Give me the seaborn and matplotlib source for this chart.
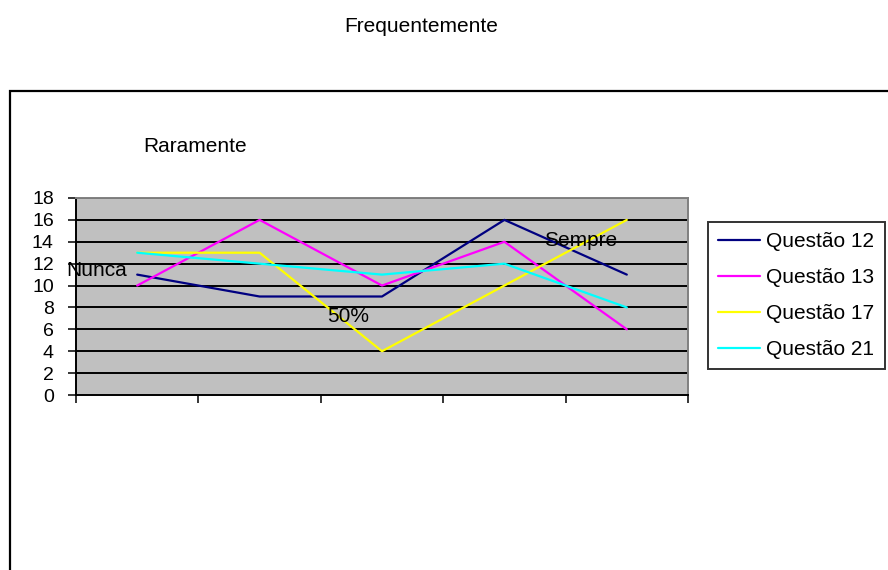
import matplotlib
matplotlib.use("Agg")
import matplotlib.pyplot as plt
import seaborn as sns
import pandas as pd
from matplotlib.patches import Rectangle

# Survey answers per question, one value per response category
categories = ["C1", "C2", "C3", "C4", "C5"]
questao_12 = [11, 9, 9, 16, 11]
questao_13 = [10, 16, 10, 14, 6]
questao_17 = [13, 13, 4, 10, 16]
questao_21 = [13, 12, 11, 12, 8]
series_names = ["Questão 12", "Questão 13", "Questão 17", "Questão 21"]
y_ticks = [0, 2, 4, 6, 8, 10, 12, 14, 16, 18]

sns.set_theme(style="white")
plt.rcParams["font.family"] = ["Liberation Sans", "DejaVu Sans"]
plt.rcParams["text.color"] = "black"
plt.rcParams["xtick.color"] = "black"
plt.rcParams["ytick.color"] = "black"

rows = []
for name, vals in zip(series_names, [questao_12, questao_13, questao_17, questao_21]):
    for i, v in enumerate(vals):
        rows.append({"pos": i, "valor": v, "serie": name})
df = pd.DataFrame(rows)

palette = {"Questão 12": "#000080", "Questão 13": "#FF00FF",
           "Questão 17": "#FFFF00", "Questão 21": "#00FFFF"}

W, H = 888, 570
fig = plt.figure(figsize=(W / 100, H / 100), dpi=100)

# Outer chart frame (runs off the right and bottom edges)
fig.patches.append(Rectangle((10 / W, -0.05), 1.0, 1 - 91 / H + 0.05,
                             transform=fig.transFigure, fill=False,
                             edgecolor="black", linewidth=1.6, zorder=0))

left, right, top, bottom = 76, 688, 198, 395
ax = fig.add_axes([left / W, 1 - bottom / H, (right - left) / W, (bottom - top) / H])
ax.set_facecolor("#C0C0C0")

for y in y_ticks[1:]:
    ax.axhline(y, color="black", linewidth=1.4, zorder=1)

sns.lineplot(data=df, x="pos", y="valor", hue="serie", palette=palette,
             linewidth=1.6, ax=ax, legend=False, zorder=3)

ax.set_xlim(-0.5, len(categories) - 0.5)
ax.set_ylim(0, 18)
ax.set_yticks(y_ticks)
ax.set_yticklabels([str(t) for t in y_ticks], fontsize=14, color="black")
ax.set_xticks([i - 0.5 for i in range(len(categories) + 1)])
ax.set_xticklabels([])
ax.set_xlabel("")
ax.set_ylabel("")
ax.tick_params(axis="both", direction="out", length=6, width=1.1, color="black",
               left=True, bottom=True)
ax.tick_params(axis="y", pad=10)
for side in ["left", "bottom"]:
    ax.spines[side].set_color("black")
    ax.spines[side].set_linewidth(1.4)
for side in ["top", "right"]:
    ax.spines[side].set_color("#808080")
    ax.spines[side].set_linewidth(1.4)

# Free text labels placed around the chart
fig.text(421 / W, 1 - 27 / H, "Frequentemente", ha="center", va="center", fontsize=15, color="black")
fig.text(143 / W, 1 - 147 / H, "Raramente", ha="left", va="center", fontsize=15, color="black")
fig.text(66 / W, 1 - 271 / H, "Nunca", ha="left", va="center", fontsize=15, color="black")
fig.text(327 / W, 1 - 316 / H, "50%", ha="left", va="center", fontsize=15, color="black")
fig.text(544 / W, 1 - 240 / H, "Sempre", ha="left", va="center", fontsize=15, color="black")

handles = [plt.Line2D([], [], color=palette[n], linewidth=1.6) for n in series_names]
leg = fig.legend(handles, series_names, loc="upper left",
                 bbox_to_anchor=(708 / W, 1 - 222 / H), fontsize=15,
                 frameon=True, fancybox=False, edgecolor="black",
                 handlelength=2.0, handletextpad=0.3, labelspacing=0.81,
                 borderpad=0.5, borderaxespad=0)
leg.get_frame().set_linewidth(1.4)
for t in leg.get_texts():
    t.set_color("black")

fig.savefig("out.png", dpi=100)
